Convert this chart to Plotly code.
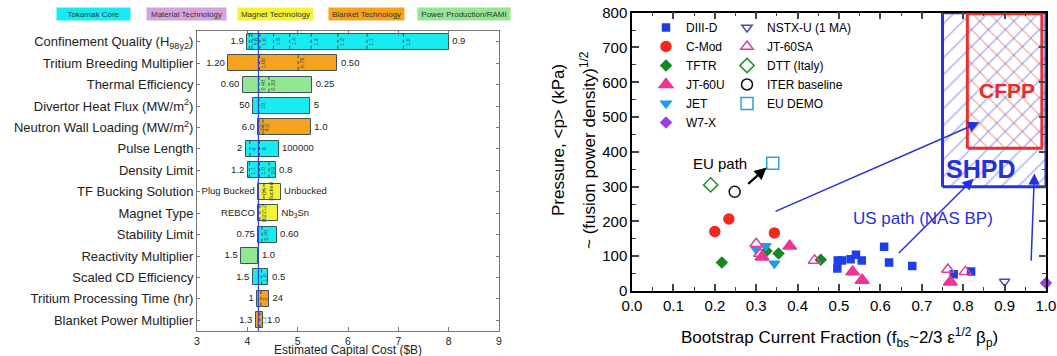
import plotly.graph_objects as go

W, H = 1057, 356

# ---------------- Left panel data ----------------
categories = [
    "Confinement Quality (H<sub>98y2</sub>)",
    "Tritium Breeding Multiplier",
    "Thermal Efficiency",
    "Divertor Heat Flux (MW/m<sup>2</sup>)",
    "Neutron Wall Loading (MW/m<sup>2</sup>)",
    "Pulse Length",
    "Density Limit",
    "TF Bucking Solution",
    "Magnet Type",
    "Stability Limit",
    "Reactivity Multiplier",
    "Scaled CD Efficiency",
    "Tritium Processing Time (hr)",
    "Blanket Power Multiplier",
]
group_names = ["Tokamak Core", "Material Technology", "Magnet Technology",
               "Blanket Technology", "Power Production/RAMI"]
group_colors = ["#16ECF2", "#D7A2DB", "#F4F434", "#F7A21C", "#93E693"]
bar_group = [0, 3, 4, 0, 3, 0, 0, 2, 2, 0, 4, 0, 3, 3]
cost_low = [4.00, 3.62, 3.91, 4.12, 4.22, 3.97, 4.01, 4.22, 4.22, 4.22, 3.88, 4.11, 4.20, 4.17]
cost_high = [8.00, 5.79, 5.29, 5.25, 5.26, 4.62, 4.56, 4.66, 4.61, 4.58, 4.22, 4.42, 4.43, 4.32]
low_labels = ["1.9", "1.20", "0.60", "50", "6.0", "2", "1.2", "Plug Bucked", "REBCO",
              "0.75", "1.5", "1.5", "1", "1.3"]
high_labels = ["0.9", "0.50", "0.25", "5", "1.0", "100000", "0.8", "Unbucked",
               "Nb<sub>3</sub>Sn", "0.60", "1.0", "0.5", "24", "1.0"]
baseline_cost = 4.22

inner_rows = [0, 0, 0, 0, 0, 0, 0, 0, 0, 1, 1, 2, 2, 3, 4, 4, 5, 5, 6, 6, 6, 7, 8, 9, 11, 12, 13]
inner_costs = [4.04, 4.09, 4.25, 4.52, 4.84, 5.27, 5.80, 6.38, 7.10, 4.24, 5.01, 4.23, 4.43,
               4.23, 4.23, 4.31, 4.05, 4.24, 4.04, 4.24, 4.43, 4.33, 4.25, 4.29, 4.28, 4.27, 4.25]
inner_labels = ["1.7", "1.8", "1.6", "1.5", "1.4", "1.3", "1.2", "1.1", "1.0", "1.00", "0.75",
                "0.40", "0.33", "10", "2.0", "4.0", "4", "8", "1.1", "1.0", "0.9",
                "CS<br>Bucked", "Bi2212", "0.70", "1.0", "2", "1.2"]

# ---------------- Right panel data ----------------
series = [
    # name, x, y, symbol, color, size, legend
    ("DIII-D", [0.497, 0.507, 0.496, 0.528, 0.541, 0.555, 0.609, 0.621, 0.677, 0.777, 0.819],
     [88, 88, 65, 91, 104, 88, 127, 82, 72, 48, 56], "square", "#1E3FE6", 7, "legend"),
    ("C-Mod", [0.200, 0.234, 0.344], [171, 207, 167], "circle", "#F02A1E", 10, "legend"),
    ("TFTR", [0.217, 0.325, 0.354, 0.456], [82, 115, 108, 90], "diamond", "#138A1E", 8, "legend"),
    ("JT-60U", [0.314, 0.381, 0.533, 0.556, 0.769], [98, 129, 55, 31, 26], "triangle-up", "#EE3595", 12, "legend"),
    ("JET", [0.300, 0.323, 0.344], [120, 129, 79], "triangle-down", "#1E9BEA", 9, "legend"),
    ("W7-X", [1.0], [23], "diamond", "#9A3EE8", 8, "legend"),
    ("NSTX-U (1 MA)", [0.90], [27], "triangle-down-open", "#4848B8", 9, "legend2"),
    ("JT-60SA", [0.300, 0.309, 0.441, 0.763, 0.805], [136, 108, 88, 62, 55], "triangle-up-open", "#E03E9E", 11, "legend2"),
    ("DTT (Italy)", [0.19], [305], "diamond-open", "#2A8A2A", 11, "legend2"),
    ("ITER baseline", [0.248], [285], "circle-open", "#111111", 11, "legend2"),
    ("EU DEMO", [0.34], [367], "square-open", "#2FA2D4", 12, "legend2"),
]
shpd_box = [0.75, 1.0, 300, 800]
cfpp_box = [0.81, 0.99, 410, 797]

fig = go.Figure()

# ---- Left bars
fig.add_trace(go.Bar(
    orientation="h", y=list(range(len(categories))),
    x=[h - l for l, h in zip(cost_low, cost_high)], base=cost_low,
    width=0.75, marker=dict(color=[group_colors[g] for g in bar_group],
                            line=dict(color="#3C5555", width=1)),
    xaxis="x", yaxis="y", showlegend=False, hoverinfo="skip"))

# dotted internal lines
dx, dy = [], []
for r, c in zip(inner_rows, inner_costs):
    dx += [c, c, None]
    dy += [r - 0.37, r + 0.37, None]
fig.add_trace(go.Scatter(x=dx, y=dy, mode="lines", line=dict(color="#2E4A40", width=1, dash="dot"),
                         xaxis="x", yaxis="y", showlegend=False, hoverinfo="skip"))

for xs, labels, pos in [(cost_low, low_labels, "middle left"), (cost_high, high_labels, "middle right")]:
    fig.add_trace(go.Scatter(x=xs, y=list(range(len(categories))), text=labels, mode="markers+text",
                             marker=dict(size=4, color="rgba(0,0,0,0)"),
                             textposition=pos, textfont=dict(size=9.5, color="#222"),
                             xaxis="x", yaxis="y", showlegend=False, hoverinfo="skip",
                             cliponaxis=False))

# ---- Right hatched regions
for box, pat, col in [(shpd_box, "/", "#2432E0"), (cfpp_box, "\\", "#E83030")]:
    x0, x1, y0, y1 = box
    fig.add_trace(go.Scatter(
        x=[x0, x1, x1, x0, x0], y=[y0, y0, y1, y1, y0], mode="lines", fill="toself",
        fillcolor="rgba(0,0,0,0)",
        fillpattern=dict(shape=pat, fgcolor=col, bgcolor="rgba(0,0,0,0)", size=12,
                         solidity=0.1, fillmode="overlay"),
        line=dict(color=col, width=3), xaxis="x2", yaxis="y2", showlegend=False,
        hoverinfo="skip", cliponaxis=False))

for name, xs, ys, sym, col, sz, leg in series:
    fig.add_trace(go.Scatter(
        x=xs, y=ys, mode="markers", name=name, legend=leg,
        marker=dict(symbol=sym, color=col, size=sz, line=dict(color=col, width=1.5)),
        xaxis="x2", yaxis="y2", cliponaxis=False))

# ---------------- Layout ----------------
font_fam = "Arial, Liberation Sans, Helvetica, sans-serif"
annotations = []

# category legend boxes (left panel)
box_centers = [93, 186, 275, 366, 464]
box_widths = [72, 78, 74, 74, 91]
for name, col, cx, bw in zip(group_names, group_colors, box_centers, box_widths):
    annotations.append(dict(text=name, x=cx / W, y=1 - 14 / H, xref="paper", yref="paper",
                            xanchor="center", yanchor="middle",
                            showarrow=False, bgcolor=col, width=bw, height=11,
                            font=dict(size=8, color="#333"), borderpad=0.5))

# rotated inner labels
for r, c, t in zip(inner_rows, inner_costs, inner_labels):
    annotations.append(dict(text=t, x=c, y=r, xref="x", yref="y", textangle=-90, showarrow=False,
                            xshift=4, font=dict(size=5.5, color="#2E4A40")))

annotations.append(dict(text="Estimated Capital Cost ($B)", x=348 / W, y=1 - 349.5 / H, xref="paper",
                        yref="paper", xanchor="center", yanchor="middle", showarrow=False,
                        font=dict(size=12, color="#222")))

# right panel annotations
blue = "#2630DE"
annotations += [
    dict(x=0.325, y=355, ax=0.277, ay=304, xref="x2", yref="y2", axref="x2", ayref="y2",
         showarrow=True, arrowhead=2, arrowsize=1.1, arrowwidth=2.2, arrowcolor="black", text=""),
    dict(x=0.839, y=485, ax=0.343, ay=227, xref="x2", yref="y2", axref="x2", ayref="y2",
         showarrow=True, arrowhead=2, arrowsize=1.5, arrowwidth=1.5, arrowcolor=blue, text=""),
    dict(x=0.825, y=323, ax=0.641, ay=105, xref="x2", yref="y2", axref="x2", ayref="y2",
         showarrow=True, arrowhead=2, arrowsize=1.5, arrowwidth=1.5, arrowcolor=blue, text=""),
    dict(x=0.972, y=338, ax=0.964, ay=83, xref="x2", yref="y2", axref="x2", ayref="y2",
         showarrow=True, arrowhead=2, arrowsize=1.5, arrowwidth=1.5, arrowcolor=blue, text=""),
    dict(text="EU path", x=0.212, y=367, xref="x2", yref="y2", showarrow=False,
         font=dict(size=15, color="black")),
    dict(text="US path (NAS BP)", x=0.704, y=208, xref="x2", yref="y2", showarrow=False,
         font=dict(size=17, color=blue)),
    dict(text="<b>CFPP</b>", x=0.905, y=577, xref="x2", yref="y2", showarrow=False,
         font=dict(size=21, color="#E82A2A")),
    dict(text="<b>SHPD</b>", x=0.841, y=350, xref="x2", yref="y2", showarrow=False,
         font=dict(size=25, color=blue)),
    dict(text="Bootstrap Current Fraction (f<sub>bs</sub>~2/3 ε<sup>1/2</sup> β<sub>p</sub>)",
         x=839 / W, y=1 - 337 / H, xref="paper", yref="paper", xanchor="center", yanchor="middle",
         showarrow=False, font=dict(size=17, color="black")),
    dict(text="Pressure, &lt;p&gt; (kPa)", x=558 / W, y=1 - 140 / H, xref="paper", yref="paper",
         xanchor="center", yanchor="middle",
         showarrow=False, textangle=-90, font=dict(size=17, color="black")),
    dict(text="~ (fusion power density)<sup>1/2</sup>", x=588 / W, y=1 - 150 / H, xref="paper",
         yref="paper", xanchor="center", yanchor="middle",
         showarrow=False, textangle=-90, font=dict(size=17, color="black")),
]

fig.update_layout(
    width=W, height=H, margin=dict(l=0, r=0, t=0, b=0, autoexpand=False),
    paper_bgcolor="white", plot_bgcolor="white",
    font=dict(family=font_fam, color="#222"),
    xaxis=dict(domain=[197 / W, 499 / W], range=[3, 9], dtick=1, ticks="inside", ticklen=4,
               showline=True, linecolor="#777", linewidth=1, mirror="ticks", tickcolor="#777",
               showgrid=False, zeroline=False, tickfont=dict(size=10.5), anchor="y",
               automargin=False),
    yaxis=dict(domain=[1 - 331 / H, 1 - 31 / H], range=[13.5, -0.5],
               tickvals=list(range(len(categories))), ticktext=categories,
               ticks="inside", ticklen=3, showline=True, linecolor="#777", tickcolor="#777",
               mirror="ticks", showgrid=False, zeroline=False, tickfont=dict(size=13),
               anchor="x", automargin=False),
    xaxis2=dict(domain=[632 / W, 1046 / W], range=[0, 1], dtick=0.1, tickformat=".1f",
                ticks="inside", ticklen=7, tickwidth=1.5, showline=True, linecolor="black",
                linewidth=1.5, mirror="ticks", showgrid=False, zeroline=False,
                minor=dict(dtick=0.05, ticks="inside", ticklen=4, tickwidth=1.2),
                tickfont=dict(size=15, color="black"), anchor="y2", automargin=False),
    yaxis2=dict(domain=[1 - 291 / H, 1 - 12.7 / H], range=[0, 800], dtick=100,
                ticks="inside", ticklen=7, tickwidth=1.5, showline=True, linecolor="black",
                linewidth=1.5, mirror="ticks", showgrid=False, zeroline=False,
                minor=dict(dtick=50, ticks="inside", ticklen=4, tickwidth=1.2),
                tickfont=dict(size=15, color="black"), anchor="x2", automargin=False),
    shapes=[dict(type="line", xref="x", yref="y domain", x0=baseline_cost, x1=baseline_cost,
                 y0=0, y1=1, line=dict(color="#3345CC", width=1.2))],
    annotations=annotations,
    legend=dict(x=646 / W, y=1 - 13 / H, xanchor="left", yanchor="top", bgcolor="rgba(0,0,0,0)",
                font=dict(size=12, color="black"), tracegroupgap=0, itemclick=False),
    legend2=dict(x=727 / W, y=1 - 13 / H, xanchor="left", yanchor="top", bgcolor="rgba(0,0,0,0)",
                 font=dict(size=12, color="black"), tracegroupgap=0, itemclick=False),
    bargap=0,
)

fig.write_html("out.html", post_script="document.body.style.margin='0';",
               config={"displayModeBar": False})
